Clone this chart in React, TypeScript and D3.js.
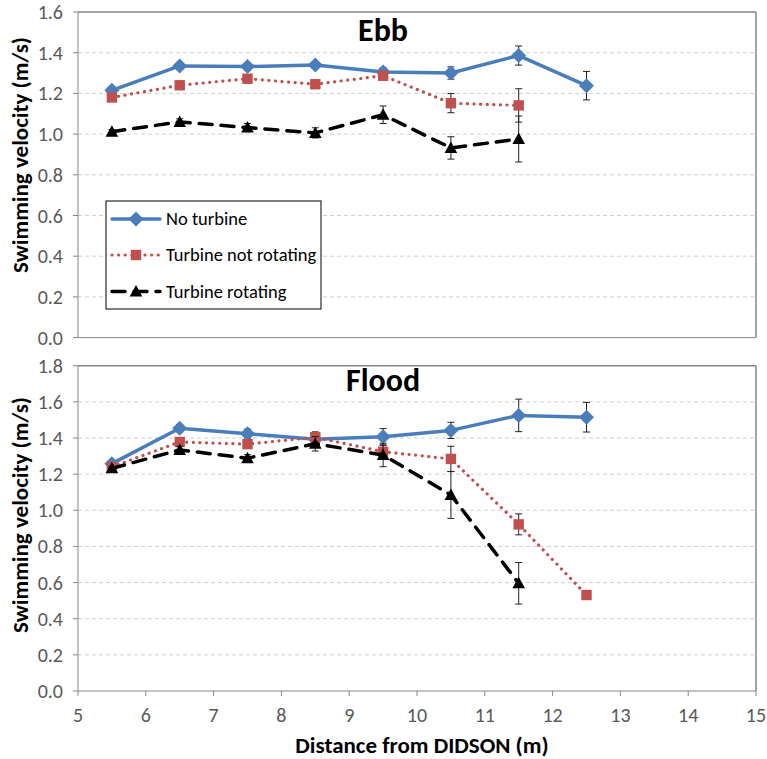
import React from "react";
import * as d3 from "d3";

const distances = [5.5, 6.5, 7.5, 8.5, 9.5, 10.5, 11.5, 12.5];
const seriesNames = ["No turbine", "Turbine not rotating", "Turbine rotating"];

// Ebb panel
const ebbNoTurbine = [1.215, 1.335, 1.332, 1.34, 1.305, 1.3, 1.386, 1.238];
const ebbNoTurbineErr = [0.015, 0.015, 0.015, 0.015, 0.02, 0.03, 0.047, 0.07];
const ebbNotRotating = [1.18, 1.24, 1.272, 1.245, 1.287, 1.152, 1.141];
const ebbNotRotatingErr = [0.01, 0.01, 0.02, 0.01, 0.02, 0.047, 0.082];
const ebbRotating = [1.012, 1.06, 1.032, 1.006, 1.095, 0.932, 0.976];
const ebbRotatingErr = [0.01, 0.015, 0.02, 0.025, 0.043, 0.055, 0.113];

// Flood panel
const floodNoTurbine = [1.258, 1.454, 1.424, 1.393, 1.407, 1.442, 1.525, 1.515];
const floodNoTurbineErr = [0.01, 0.02, 0.025, 0.015, 0.045, 0.045, 0.09, 0.082];
const floodNotRotating = [1.24, 1.378, 1.366, 1.404, 1.324, 1.284, 0.922, 0.531];
const floodNotRotatingErr = [0.01, 0.02, 0.02, 0.03, 0.035, 0.07, 0.058, 0];
const floodRotating = [1.232, 1.334, 1.288, 1.368, 1.306, 1.085, 0.596];
const floodRotatingErr = [0.01, 0.02, 0.02, 0.04, 0.065, 0.13, 0.115];

const xTicks = [5, 6, 7, 8, 9, 10, 11, 12, 13, 14, 15];
const ebbYTicks = [0, 0.2, 0.4, 0.6, 0.8, 1.0, 1.2, 1.4, 1.6];
const floodYTicks = [0, 0.2, 0.4, 0.6, 0.8, 1.0, 1.2, 1.4, 1.6, 1.8];

const FONT = "Carlito, Lato, 'Open Sans', sans-serif";
const BLUE = "#4a7ebb";
const RED = "#c0504d";
const BLACK = "#000000";
const AXIS = "#868686";
const GRID = "#d0d0d0";
const TICKTXT = "#595959";

const plotLeft = 78;
const plotRight = 756;

const x = d3.scaleLinear().domain([5, 15]).range([plotLeft, plotRight]);

type Marker = "diamond" | "square" | "triangle";

function markerPath(kind: Marker, cx: number, cy: number): string {
  const p = d3.path();
  if (kind === "diamond") {
    const r = 7.5;
    p.moveTo(cx, cy - r);
    p.lineTo(cx + r, cy);
    p.lineTo(cx, cy + r);
    p.lineTo(cx - r, cy);
    p.closePath();
  } else if (kind === "square") {
    const h = 5.2;
    p.rect(cx - h, cy - h, 2 * h, 2 * h);
  } else {
    const w = 6.3;
    p.moveTo(cx, cy - 6.5);
    p.lineTo(cx + w, cy + 5);
    p.lineTo(cx - w, cy + 5);
    p.closePath();
  }
  return p.toString();
}

interface SeriesDef {
  values: number[];
  errs: number[];
  color: string;
  dash: string;
  width: number;
  cap: "round" | "butt";
  marker: Marker;
}

function Series({ s, y }: { s: SeriesDef; y: d3.ScaleLinear<number, number> }) {
  const pts = s.values.map((v, i) => [distances[i], v] as [number, number]);
  const line = d3
    .line<[number, number]>()
    .x((d) => x(d[0]))
    .y((d) => y(d[1]));
  return (
    <g>
      <path
        d={line(pts) || ""}
        fill="none"
        stroke={s.color}
        strokeWidth={s.width}
        strokeDasharray={s.dash}
        strokeLinecap={s.cap}
        strokeLinejoin="round"
      />
      {pts.map((d, i) => {
        const e = s.errs[i] || 0;
        if (e <= 0) return null;
        const cx = x(d[0]);
        const y1 = y(d[1] + e);
        const y2 = y(d[1] - e);
        return (
          <g key={"e" + i} stroke="#222" strokeWidth={1}>
            <line x1={cx} x2={cx} y1={y1} y2={y2} />
            <line x1={cx - 3.5} x2={cx + 3.5} y1={y1} y2={y1} />
            <line x1={cx - 3.5} x2={cx + 3.5} y1={y2} y2={y2} />
          </g>
        );
      })}
      {pts.map((d, i) => (
        <path key={"m" + i} d={markerPath(s.marker, x(d[0]), y(d[1]))} fill={s.color} />
      ))}
    </g>
  );
}

function Panel({
  top,
  bottom,
  yMax,
  yTicks,
  title,
  titleY,
  series,
  showXAxis,
  yLabelCenter,
}: {
  top: number;
  bottom: number;
  yMax: number;
  yTicks: number[];
  title: string;
  titleY: number;
  series: SeriesDef[];
  showXAxis: boolean;
  yLabelCenter: number;
}) {
  const y = d3.scaleLinear().domain([0, yMax]).range([bottom, top]);
  return (
    <g>
      {yTicks
        .filter((t) => t > 0 && t < yMax - 1e-9)
        .map((t) => (
          <line
            key={"g" + t}
            x1={plotLeft}
            x2={plotRight}
            y1={y(t)}
            y2={y(t)}
            stroke={GRID}
            strokeWidth={1}
            strokeDasharray="4 3"
          />
        ))}
      <line x1={plotLeft} x2={plotRight} y1={top} y2={top} stroke={AXIS} strokeWidth={1.5} />
      <line x1={plotRight} x2={plotRight} y1={top} y2={bottom} stroke={AXIS} strokeWidth={1.5} />
      <line x1={plotLeft} x2={plotLeft} y1={top} y2={bottom} stroke={AXIS} strokeWidth={1} />
      {yTicks.map((t) => (
        <g key={"yt" + t}>
          <line x1={plotLeft - 5} x2={plotLeft} y1={y(t)} y2={y(t)} stroke={AXIS} strokeWidth={1} />
          <text
            x={63}
            y={y(t)}
            dy="0.35em"
            textAnchor="end"
            fontFamily={FONT}
            fontSize={20}
            fill={TICKTXT}
          >
            {d3.format(".1f")(t)}
          </text>
        </g>
      ))}
      <line x1={plotLeft} x2={plotRight} y1={bottom} y2={bottom} stroke={AXIS} strokeWidth={1} />
      {showXAxis &&
        xTicks.map((t) => (
          <g key={"xt" + t}>
            <line x1={x(t)} x2={x(t)} y1={bottom} y2={bottom + 5} stroke={AXIS} strokeWidth={1} />
            <text
              x={x(t)}
              y={bottom + 31}
              textAnchor="middle"
              fontFamily={FONT}
              fontSize={20}
              fill={TICKTXT}
            >
              {t}
            </text>
          </g>
        ))}
      <text
        x={383}
        y={titleY}
        textAnchor="middle"
        fontFamily={FONT}
        fontSize={32}
        fontWeight="bold"
        fill="#000"
      >
        {title}
      </text>
      <text
        transform={`translate(28,${yLabelCenter}) rotate(-90)`}
        textAnchor="middle"
        fontFamily={FONT}
        fontSize={23}
        fontWeight="bold"
        fill="#000"
      >
        Swimming velocity (m/s)
      </text>
      {series.map((s, i) => (
        <Series key={i} s={s} y={y} />
      ))}
    </g>
  );
}

const styleNo = { color: BLUE, dash: "", width: 3.5, cap: "round" as const, marker: "diamond" as Marker };
const styleNR = { color: RED, dash: "0.1 6.5", width: 3.2, cap: "round" as const, marker: "square" as Marker };
const styleR = { color: BLACK, dash: "13 9", width: 3.5, cap: "round" as const, marker: "triangle" as Marker };

export default function App() {
  const ebbSeries: SeriesDef[] = [
    { ...styleNo, values: ebbNoTurbine, errs: ebbNoTurbineErr },
    { ...styleNR, values: ebbNotRotating, errs: ebbNotRotatingErr },
    { ...styleR, values: ebbRotating, errs: ebbRotatingErr },
  ];
  const floodSeries: SeriesDef[] = [
    { ...styleNo, values: floodNoTurbine, errs: floodNoTurbineErr },
    { ...styleNR, values: floodNotRotating, errs: floodNotRotatingErr },
    { ...styleR, values: floodRotating, errs: floodRotatingErr },
  ];
  const legendStyles = [styleNo, styleNR, styleR];
  const legendY = [219, 255, 291.5];
  return (
    <svg
      width={767}
      height={759}
      style={{ position: "absolute", left: 0, top: 0, background: "#fff" }}
    >
      <rect x={0} y={0} width={767} height={759} fill="#fff" />
      <Panel
        top={12}
        bottom={337.6}
        yMax={1.6}
        yTicks={ebbYTicks}
        title="Ebb"
        titleY={41}
        series={ebbSeries}
        showXAxis={false}
        yLabelCenter={155}
      />
      <Panel
        top={365.7}
        bottom={691}
        yMax={1.8}
        yTicks={floodYTicks}
        title="Flood"
        titleY={391}
        series={floodSeries}
        showXAxis={true}
        yLabelCenter={515}
      />
      <text
        x={422}
        y={753}
        textAnchor="middle"
        fontFamily={FONT}
        fontSize={23}
        fontWeight="bold"
        fill="#000"
      >
        Distance from DIDSON (m)
      </text>
      <g>
        <rect x={106} y={201} width={215} height={108} fill="#fff" stroke="#000" strokeWidth={1} />
        {seriesNames.map((name, i) => {
          const st = legendStyles[i];
          const cy = legendY[i];
          return (
            <g key={name}>
              <line
                x1={112}
                x2={160}
                y1={cy}
                y2={cy}
                stroke={st.color}
                strokeWidth={st.width}
                strokeDasharray={st.dash}
                strokeLinecap={st.cap}
              />
              <path d={markerPath(st.marker, 136, cy)} fill={st.color} />
              <text
                x={166}
                y={cy}
                dy="0.35em"
                fontFamily={FONT}
                fontSize={18.5}
                fill="#000"
              >
                {name}
              </text>
            </g>
          );
        })}
      </g>
    </svg>
  );
}
